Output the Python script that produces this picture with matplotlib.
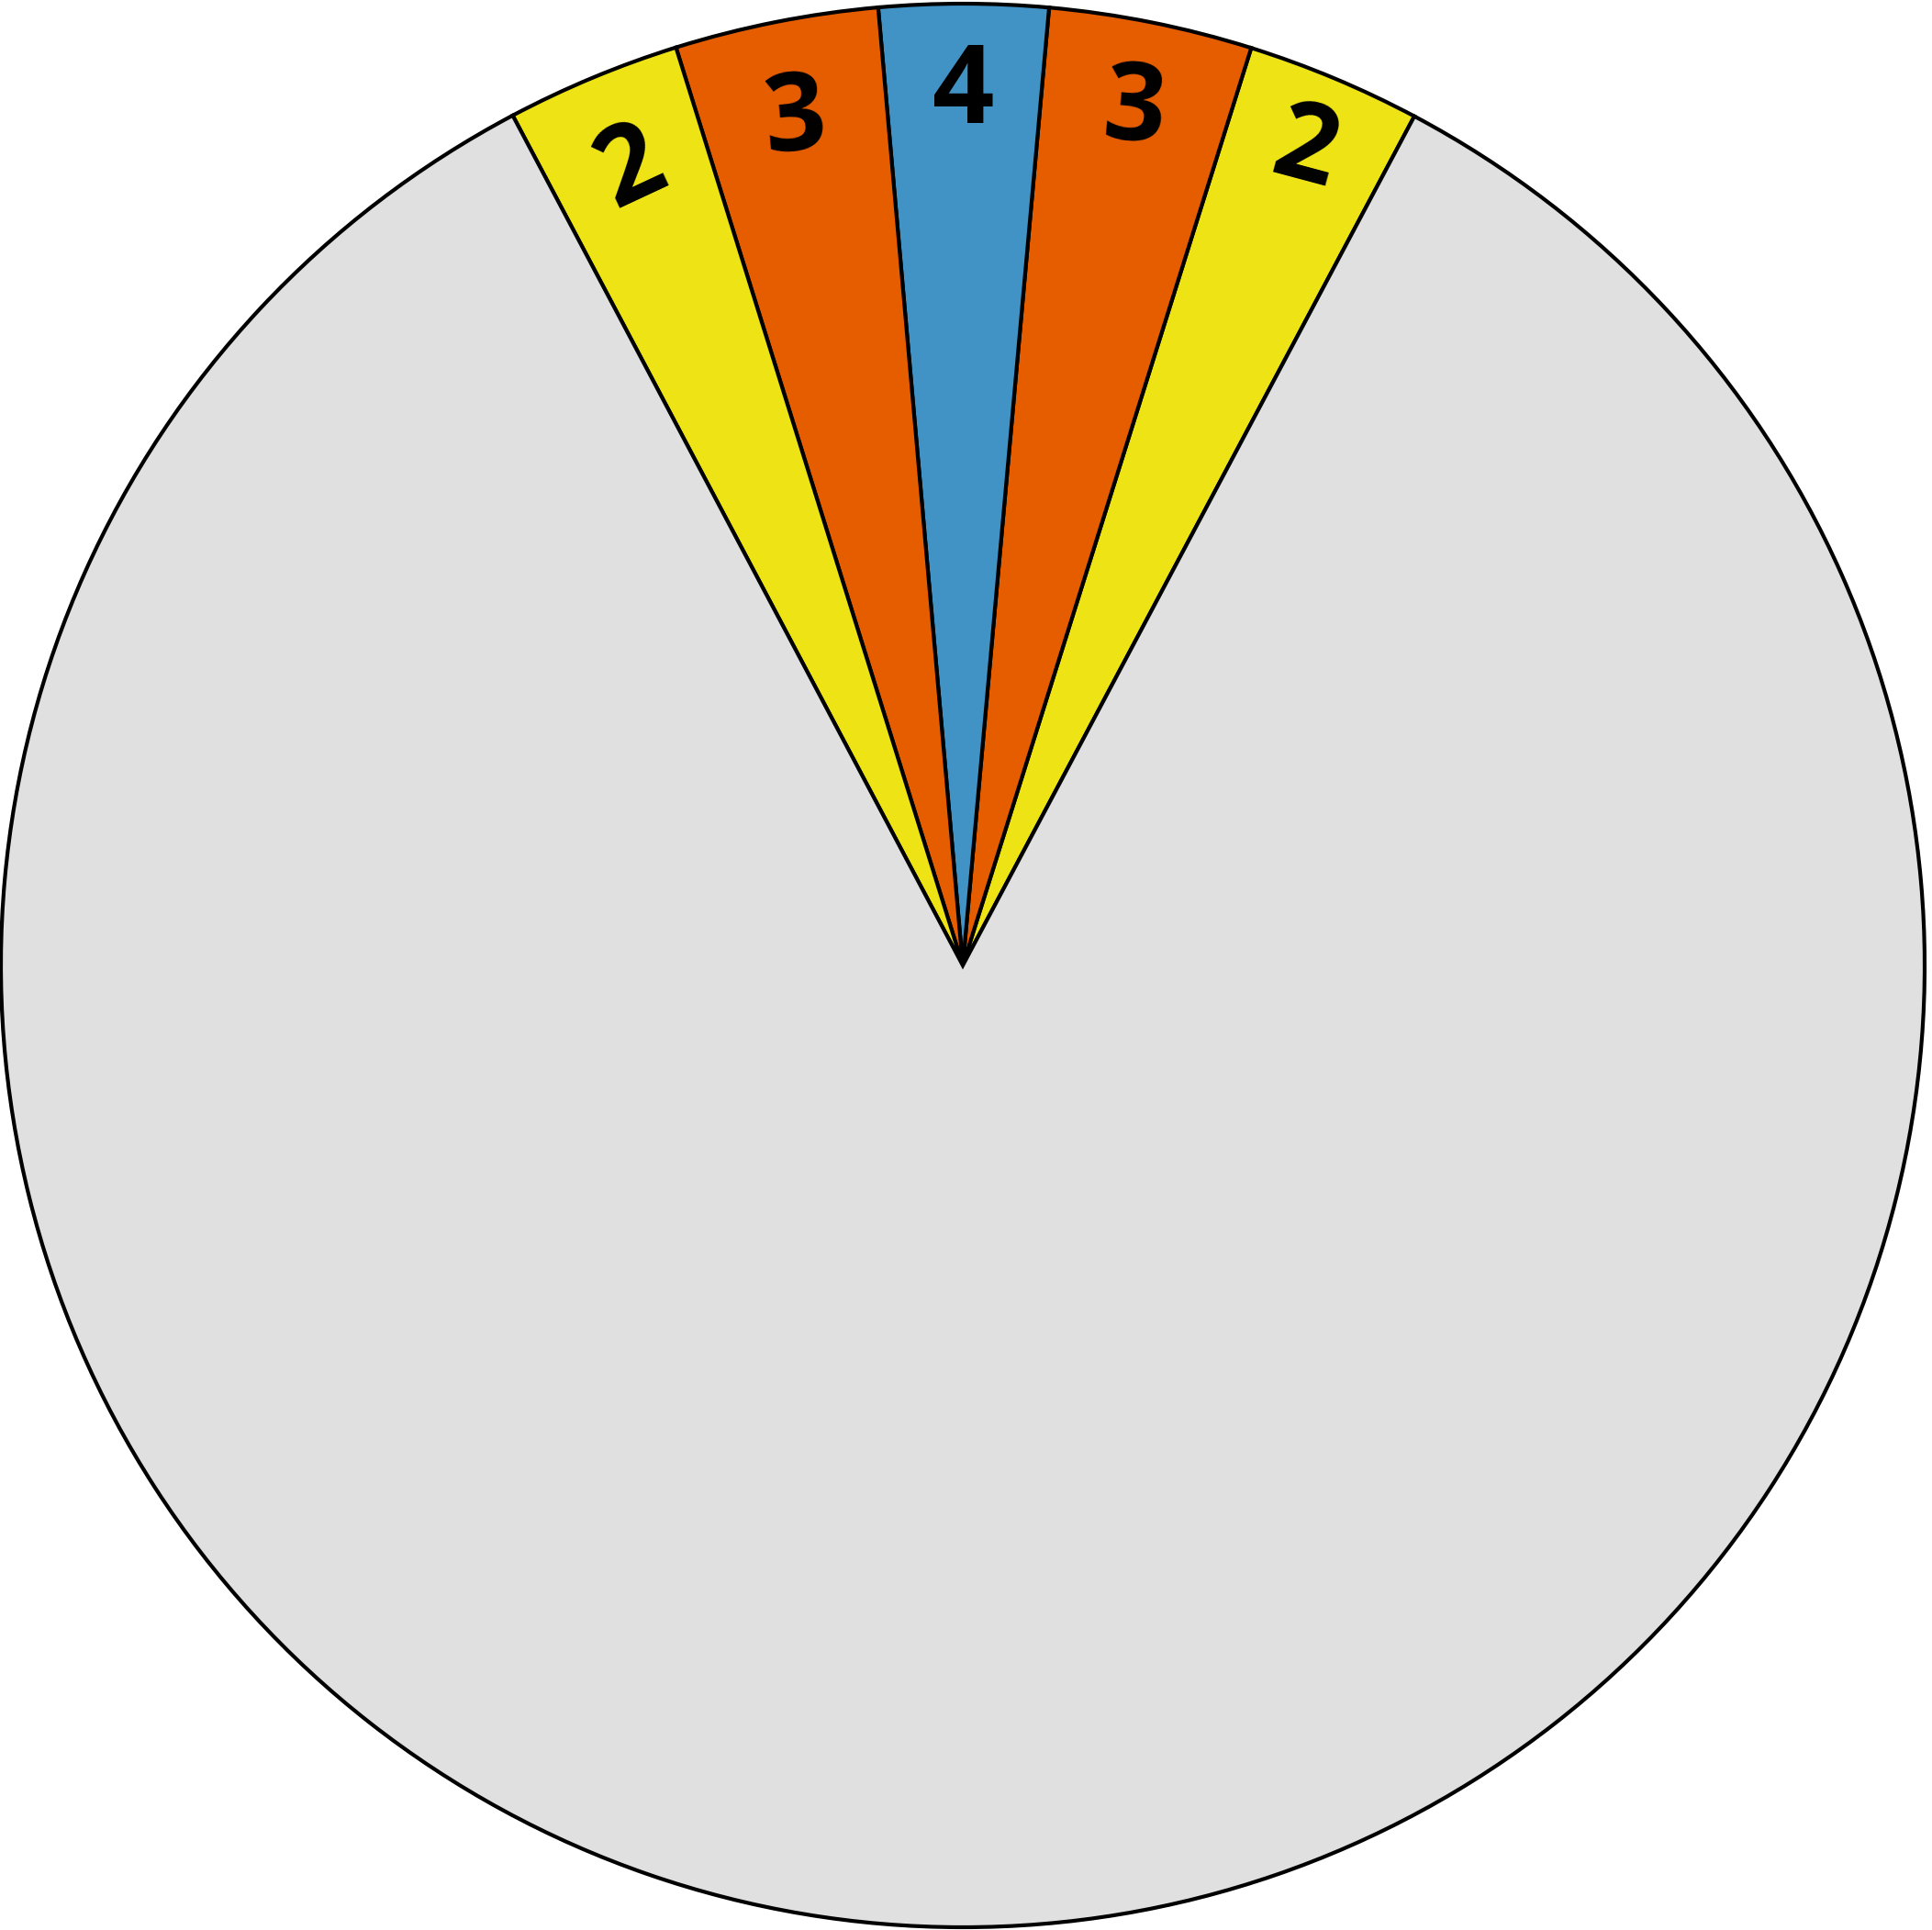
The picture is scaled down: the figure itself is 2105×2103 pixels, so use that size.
import matplotlib
matplotlib.use("Agg")
import matplotlib.pyplot as plt
import numpy as np

# Slice sizes (degrees of the full circle), counterclockwise from the right yellow/gray edge
values = [10.55, 12.3, 10.2, 12.3, 10.55, 304.1]
labels = ["2", "3", "4", "3", "2", ""]
colors = ["#EEE415", "#E65D00", "#4192C5", "#E65D00", "#EEE415", "#E0E0E0"]

# label styling (rotation in degrees, radial distance of glyph centre)
label_rot = [-15, -5, 0, 5, 25, 0]
label_r = [0.927, 0.915, 0.915, 0.904, 0.906, 0.0]

W, H = 2105, 2103
fig = plt.figure(figsize=(W / 100, H / 100), dpi=100)
ax = fig.add_axes([0, 0, 1, 1])

wedges, _ = ax.pie(values, colors=colors, startangle=62.0, counterclock=True,
                   radius=1.0, center=(0, 0),
                   wedgeprops=dict(edgecolor="black", linewidth=3.0))

R_px = 1048.0
cx, cy = 1049.0, 2103 - 1052.0
ax.set_xlim(-cx / R_px, (W - cx) / R_px)
ax.set_ylim(-cy / R_px, (H - cy) / R_px)
ax.set_aspect("auto")
ax.axis("off")

half_h = 41.0 / R_px
for w, lab, rot, rc in zip(wedges, labels, label_rot, label_r):
    if not lab:
        continue
    mid = 0.5 * (w.theta1 + w.theta2)
    th = np.radians(mid)
    gx, gy = rc * np.cos(th), rc * np.sin(th)
    ar = np.radians(rot)
    bx = gx + half_h * np.sin(ar)
    by = gy - half_h * np.cos(ar)
    ax.text(bx, by, lab, ha="center", va="baseline", rotation=rot,
            rotation_mode="anchor", fontsize=85, fontweight="bold",
            family=["Open Sans", "DejaVu Sans"], color="black")

fig.savefig("out.png", dpi=100)
